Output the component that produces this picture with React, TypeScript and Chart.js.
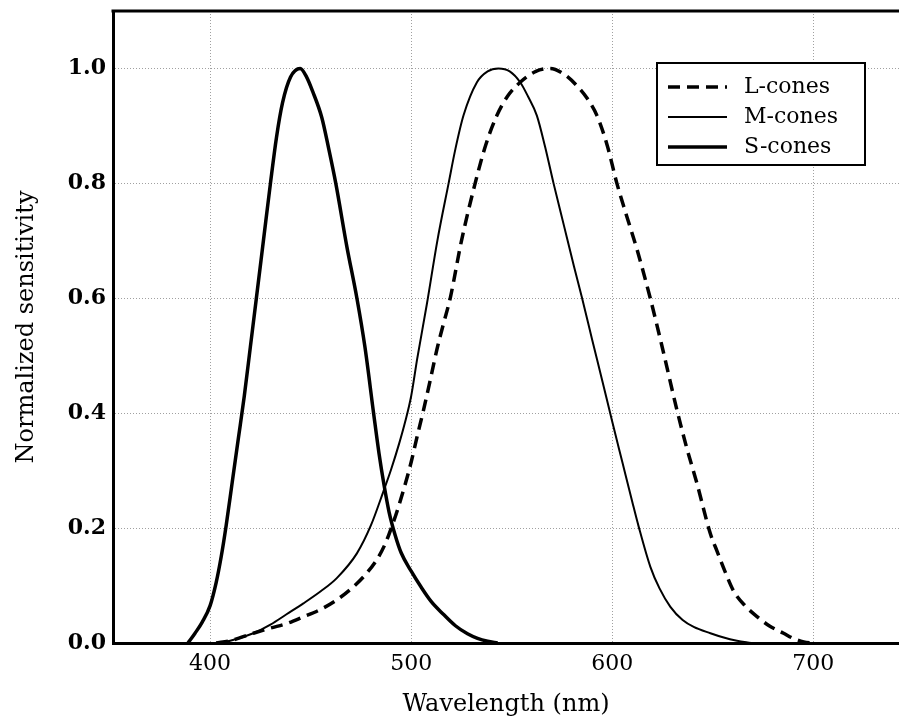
import { useEffect, useRef } from 'react';
import { Chart, registerables } from 'chart.js';

Chart.register(...registerables);

// ---- data (wavelength in nm, normalized sensitivity) ----
const lWavelengths = [403, 410, 421.5, 430, 438.2, 446, 454.7, 463, 471.3, 477, 482.9, 487, 490.4, 493.5, 496.5, 500, 503, 506.1, 509.5, 512.8, 516, 519.4, 525, 531.8, 537, 542.6, 548, 554.2, 562, 569.2, 576, 582.4, 587.5, 592.4, 597.5, 602.3, 607, 612.3, 618.9, 624.5, 632.2, 637, 642.1, 648.8, 652.1, 656, 660.4, 666, 672, 678, 685.2, 690, 695.2, 700];
const lValues = [0, 0.004, 0.017, 0.026, 0.034, 0.045, 0.058, 0.075, 0.098, 0.118, 0.145, 0.172, 0.203, 0.235, 0.27, 0.315, 0.36, 0.405, 0.458, 0.511, 0.555, 0.6, 0.7, 0.8, 0.866, 0.918, 0.952, 0.976, 0.995, 1.0, 0.99, 0.97, 0.948, 0.918, 0.866, 0.8, 0.745, 0.685, 0.6, 0.52, 0.405, 0.34, 0.278, 0.19, 0.16, 0.125, 0.09, 0.065, 0.046, 0.03, 0.017, 0.008, 0.002, 0];

const mWavelengths = [403, 410, 421.5, 430, 438, 446.4, 455, 463, 473, 480, 486.2, 490, 494, 497, 500, 503, 507.8, 513, 518.6, 522, 526, 532.7, 538, 543.4, 549, 554.2, 558, 562.5, 566.5, 570.8, 576, 581, 585, 590, 595, 600, 605, 610, 613.1, 618.9, 623.5, 628.9, 635, 640.5, 648.8, 655, 662, 669];
const mValues = [0, 0.004, 0.017, 0.032, 0.05, 0.069, 0.09, 0.113, 0.156, 0.205, 0.264, 0.302, 0.347, 0.385, 0.43, 0.495, 0.59, 0.7, 0.8, 0.86, 0.918, 0.976, 0.995, 1.0, 0.995, 0.976, 0.952, 0.918, 0.865, 0.8, 0.726, 0.655, 0.6, 0.528, 0.457, 0.385, 0.315, 0.245, 0.203, 0.133, 0.095, 0.063, 0.04, 0.028, 0.017, 0.01, 0.004, 0];

const sWavelengths = [389, 392.5, 396, 400, 403, 405.5, 408, 411, 414, 417, 420, 423, 426.5, 430, 433, 436, 440, 444.8, 448, 451, 455.5, 459, 462.5, 468, 473, 477, 481.3, 484, 486.5, 489, 492, 495, 500, 505, 510, 516, 522, 528, 533, 538, 543];
const sValues = [0, 0.017, 0.036, 0.065, 0.105, 0.15, 0.205, 0.28, 0.355, 0.43, 0.515, 0.6, 0.7, 0.8, 0.88, 0.94, 0.985, 1.0, 0.985, 0.96, 0.915, 0.86, 0.8, 0.69, 0.6, 0.515, 0.4, 0.33, 0.275, 0.228, 0.188, 0.157, 0.125, 0.097, 0.072, 0.05, 0.03, 0.016, 0.008, 0.003, 0];

const seriesLabels = ['L-cones', 'M-cones', 'S-cones'];
const xTickValues = [400, 500, 600, 700];
const yTickValues = [0, 0.2, 0.4, 0.6, 0.8, 1.0];
const yTickLabels = ['0.0', '0.2', '0.4', '0.6', '0.8', '1.0'];
const xTitle = 'Wavelength (nm)';
const yTitle = 'Normalized sensitivity';

const FONT = '"DejaVu Serif", "Liberation Serif", serif';

const toPoints = (xs: number[], ys: number[]) => xs.map((x, i) => ({ x, y: ys[i] }));

const topBorderPlugin = {
  id: 'topBorder',
  afterDraw(chart: any) {
    const { ctx, chartArea } = chart;
    ctx.save();
    ctx.strokeStyle = '#000';
    ctx.lineWidth = 3;
    ctx.beginPath();
    ctx.moveTo(chartArea.left - 1.5, chartArea.top);
    ctx.lineTo(chartArea.right, chartArea.top);
    ctx.stroke();
    ctx.restore();
  },
};

const legendBoxPlugin = {
  id: 'legendBox',
  afterDraw(chart: any) {
    const { ctx, chartArea } = chart;
    const left = chartArea.right - 242;
    const top = chartArea.top + 52;
    const w = 208;
    const h = 102;
    ctx.save();
    ctx.fillStyle = '#fff';
    ctx.fillRect(left, top, w, h);
    ctx.lineWidth = 2;
    ctx.strokeStyle = '#000';
    ctx.strokeRect(left, top, w, h);
    ctx.font = `22px ${FONT}`;
    ctx.textBaseline = 'middle';
    ctx.textAlign = 'left';
    chart.data.datasets.forEach((ds: any, i: number) => {
      const y = top + 24 + i * 30;
      ctx.beginPath();
      ctx.setLineDash(ds.borderDash || []);
      ctx.lineWidth = ds.borderWidth;
      ctx.strokeStyle = '#000';
      ctx.moveTo(left + 11, y);
      ctx.lineTo(left + 70, y);
      ctx.stroke();
      ctx.setLineDash([]);
      ctx.fillStyle = '#000';
      ctx.fillText(ds.label, left + 87, y);
    });
    ctx.restore();
  },
};

export default function App() {
  const canvasRef = useRef<HTMLCanvasElement | null>(null);

  useEffect(() => {
    const canvas = canvasRef.current;
    if (!canvas) return;
    const chart = new Chart(canvas, {
      type: 'line',
      data: {
        datasets: [
          {
            label: seriesLabels[0],
            data: toPoints(lWavelengths, lValues),
            borderColor: '#000',
            borderWidth: 3.5,
            borderDash: [12, 7],
            pointRadius: 0,
            cubicInterpolationMode: 'monotone',
            fill: false,
          },
          {
            label: seriesLabels[1],
            data: toPoints(mWavelengths, mValues),
            borderColor: '#000',
            borderWidth: 2,
            pointRadius: 0,
            cubicInterpolationMode: 'monotone',
            fill: false,
          },
          {
            label: seriesLabels[2],
            data: toPoints(sWavelengths, sValues),
            borderColor: '#000',
            borderWidth: 3.5,
            pointRadius: 0,
            cubicInterpolationMode: 'monotone',
            fill: false,
          },
        ],
      },
      options: {
        responsive: false,
        animation: false,
        devicePixelRatio: 1,
        layout: { padding: { top: 11, right: 0, bottom: 0, left: 0 } },
        plugins: {
          legend: { display: false },
          tooltip: { enabled: false },
        },
        scales: {
          x: {
            type: 'linear',
            min: 351.7,
            max: 742.6,
            afterBuildTicks: (scale: any) => {
              scale.ticks = xTickValues.map((v) => ({ value: v }));
            },
            afterFit: (scale: any) => {
              scale.height = 76;
              scale.paddingLeft = 0;
              scale.paddingRight = 0;
            },
            ticks: {
              color: '#000',
              font: { family: FONT, size: 22 },
              padding: 8,
              maxRotation: 0,
              autoSkip: false,
              callback: (v: any) => String(v),
            },
            grid: { color: '#a0a0a0', lineWidth: 1, drawTicks: false },
            border: { color: '#000', width: 3, dash: [1, 2] },
            title: {
              display: true,
              text: xTitle,
              color: '#000',
              font: { family: FONT, size: 24, lineHeight: 1.2 },
              padding: { top: 0, bottom: 0 },
            },
          },
          y: {
            type: 'linear',
            min: 0,
            max: 1.1,
            afterBuildTicks: (scale: any) => {
              scale.ticks = yTickValues.map((v) => ({ value: v }));
            },
            afterFit: (scale: any) => {
              scale.width = 113;
              scale.paddingTop = 0;
              scale.paddingBottom = 0;
            },
            ticks: {
              color: '#000',
              font: { family: FONT, size: 22, weight: 'bold' },
              padding: 7,
              callback: (v: any) => {
                const i = yTickValues.findIndex((t) => Math.abs(t - Number(v)) < 1e-9);
                return i >= 0 ? yTickLabels[i] : '';
              },
            },
            grid: { color: '#a0a0a0', lineWidth: 1, drawTicks: false },
            border: { color: '#000', width: 3, dash: [1, 2] },
            title: {
              display: true,
              text: yTitle,
              color: '#000',
              font: { family: FONT, size: 24, lineHeight: 1.2 },
              padding: { top: 12, bottom: 0 },
            },
          },
        },
      },
      plugins: [topBorderPlugin, legendBoxPlugin],
    } as any);
    return () => chart.destroy();
  }, []);

  return (
    <div style={{ position: 'fixed', left: 0, top: 0, width: 899, height: 719, background: '#fff' }}>
      <canvas ref={canvasRef} width={899} height={719} style={{ display: 'block' }} />
    </div>
  );
}
